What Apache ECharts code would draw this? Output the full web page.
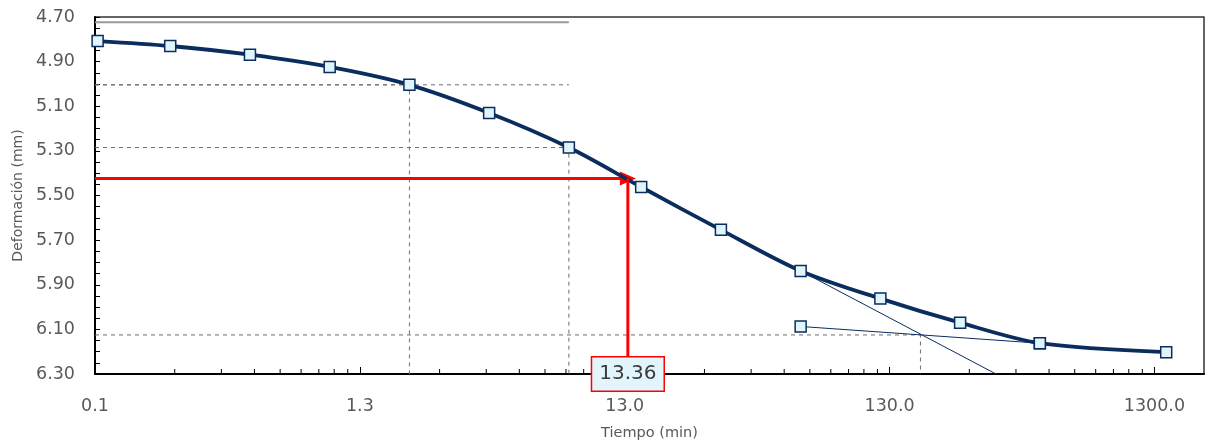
<!DOCTYPE html>
<html>
<head>
<meta charset="utf-8">
<style>
  html, body { margin: 0; padding: 0; background: #fff; }
  #chart { width: 1207px; height: 448px; }
</style>
</head>
<body>
<div id="chart"></div>
<script src="https://cdn.jsdelivr.net/npm/echarts@6/dist/echarts.min.js"></script>
<script>
// lecturas del ensayo
var tiempos = [0.133, 0.25, 0.5, 1, 2, 4, 8, 15, 30, 60, 120, 240, 480, 1440];
var deformaciones = [4.808, 4.830, 4.869, 4.924, 5.004, 5.130, 5.285, 5.462, 5.654, 5.838, 5.962, 6.070, 6.162, 6.202];

// ejes
var tMin = 0.13, tMax = 2000;
var xTickLabels = ['0.1', '1.3', '13.0', '130.0', '1300.0'];
var yMin = 4.70, yMax = 6.30;

// construccion de Casagrande
var t1 = 2, t2 = 8;
var d0 = 4.723, d1 = 5.004, d2 = 5.285;
var tInter = 170, d100 = 6.125;
var t50 = 13.36, d50 = 5.424;
var tangente1 = [[60, 5.838], [328, 6.30]];
var tangente2 = [[60, 6.087], [480, 6.162]];

var FONT = 'DejaVu Sans';
var NAVY = '#0a2d5e';

function lx(t) { return Math.log10(t / tMin); }
function pts(arr) { return arr.map(function (p) { return [lx(p[0]), p[1]]; }); }

// minor ticks of the log axis (2..9 per decade)
var minorTicks = [];
for (var n = 0; n < 5; n++) {
    for (var k = 2; k < 10; k++) {
        var v = tMin * k * Math.pow(10, n);
        if (v < tMax) minorTicks.push([lx(v), yMax]);
    }
}

var dashed = { color: '#6e6e6e', width: 1, type: [4, 4] };

var chart = echarts.init(document.getElementById('chart'));
chart.setOption({
    animation: false,
    grid: {
        left: 95, right: 3, top: 17, bottom: 74,
        outerBoundsMode: 'none', containLabel: false,
        show: true, borderColor: '#333', borderWidth: 1.5
    },
    xAxis: {
        type: 'value',
        min: 0,
        max: lx(tMax),
        interval: 1,
        name: 'Tiempo (min)',
        nameLocation: 'middle',
        nameGap: 52,
        nameTextStyle: { color: '#595959', fontSize: 14.5, fontFamily: FONT },
        axisLine: { lineStyle: { color: '#000', width: 2 } },
        axisTick: { inside: true, length: 7, lineStyle: { color: '#000' } },
        axisLabel: {
            margin: 23, fontSize: 17.5, color: '#595959', fontFamily: FONT, showMaxLabel: false,
            formatter: function (v) { return xTickLabels[Math.round(v)] || ''; }
        },
        splitLine: { show: false }
    },
    yAxis: {
        type: 'value',
        inverse: true,
        min: yMin,
        max: yMax,
        interval: 0.2,
        name: 'Deformación (mm)',
        nameLocation: 'middle',
        nameGap: 67,
        nameTextStyle: { color: '#595959', fontSize: 14, fontFamily: FONT },
        axisLine: { lineStyle: { color: '#000', width: 2 } },
        axisTick: { inside: true, length: 5, lineStyle: { color: '#000' } },
        minorTick: { show: true, splitNumber: 4, length: 5, lineStyle: { color: '#000' } },
        axisLabel: {
            margin: 20, fontSize: 17.5, color: '#595959', fontFamily: FONT,
            formatter: function (v) { return v.toFixed(2); }
        },
        splitLine: { show: false }
    },
    series: [
        {
            type: 'line', silent: true, symbol: 'none', z: 2,
            lineStyle: { color: '#9a9a9a', width: 2 },
            data: pts([[tMin, d0], [t2, d0]])
        },
        {
            type: 'line', silent: true, symbol: 'none', z: 2, lineStyle: dashed,
            data: pts([[tMin, d1], [t1, d1], [t1, yMax]])
        },
        {
            type: 'line', silent: true, symbol: 'none', z: 2, lineStyle: dashed,
            data: pts([[tMin, d1], [t2, d1]])
        },
        {
            type: 'line', silent: true, symbol: 'none', z: 2, lineStyle: dashed,
            data: pts([[tMin, d2], [t2, d2], [t2, yMax]])
        },
        {
            type: 'line', silent: true, symbol: 'none', z: 2, lineStyle: dashed,
            data: pts([[tMin, d100], [tInter, d100], [tInter, yMax]])
        },
        {
            type: 'line', silent: true, symbol: 'none', z: 3,
            lineStyle: { color: NAVY, width: 1 },
            data: pts(tangente1)
        },
        {
            type: 'line', silent: true, symbol: 'rect', symbolSize: 11, z: 3,
            itemStyle: { color: '#e0f4fc', borderColor: NAVY, borderWidth: 1.5 },
            lineStyle: { color: NAVY, width: 1 },
            data: pts(tangente2)
        },
        {
            type: 'line', silent: true, symbol: 'rect', symbolSize: 11, smooth: 0.3, z: 5,
            itemStyle: { color: '#e0f4fc', borderColor: NAVY, borderWidth: 1.5, opacity: 1 },
            lineStyle: { color: NAVY, width: 3.8 },
            data: tiempos.map(function (t, i) { return [lx(t), deformaciones[i]]; })
        },
        {
            type: 'line', silent: true, symbol: 'none', z: 6,
            lineStyle: { color: '#ff0000', width: 3 },
            data: pts([[t50, d50], [t50, yMax]]),
            markLine: {
                silent: true,
                symbol: ['none', 'triangle'],
                symbolSize: [14, 16],
                label: { show: false },
                lineStyle: { color: '#ff0000', width: 3, type: 'solid' },
                data: [[{ coord: [lx(tMin), d50] }, { coord: [lx(t50), d50] }]]
            }
        },
        {
            type: 'custom', silent: true, z: 4,
            encode: { x: 0, y: 1 },
            data: minorTicks,
            renderItem: function (params, api) {
                var p = api.coord([api.value(0), api.value(1)]);
                return {
                    type: 'line',
                    shape: { x1: p[0], y1: p[1], x2: p[0], y2: p[1] - 5 },
                    style: { stroke: '#000', lineWidth: 1 }
                };
            }
        },
        {
            type: 'scatter', silent: true, symbolSize: 0, z: 10,
            itemStyle: { opacity: 1 },
            data: [[lx(t50), yMax]],
            label: {
                show: true, position: 'inside', opacity: 1,
                formatter: function () { return t50.toFixed(2); },
                fontSize: 20, color: '#3a3a3a', fontFamily: FONT,
                backgroundColor: '#e3f5fc', borderColor: '#ff0000', borderWidth: 1.5,
                padding: [7, 7, 6, 7]
            }
        }
    ]
});
</script>
</body>
</html>
